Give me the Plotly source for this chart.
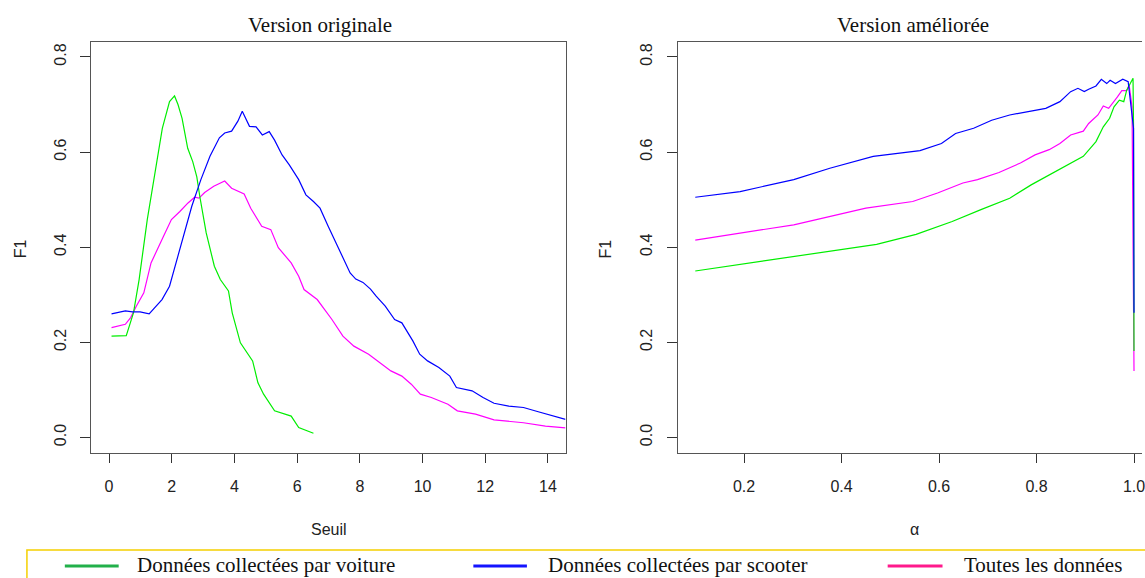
import plotly.graph_objects as go

# ---------------- data ----------------
# Left panel: "Version originale" (x = Seuil)
seuil_voiture = [0.08, 0.55, 0.78, 0.96, 1.22, 1.45, 1.70, 1.93, 2.09, 2.20, 2.33, 2.51, 2.67, 2.80,
                 2.90, 3.10, 3.36, 3.55, 3.81, 3.93, 4.19, 4.58, 4.75, 4.93, 5.28, 5.81, 6.05, 6.52]
f1_orig_voiture = [0.213, 0.214, 0.262, 0.332, 0.458, 0.548, 0.650, 0.706, 0.718, 0.700, 0.671, 0.608,
                   0.580, 0.548, 0.505, 0.430, 0.360, 0.332, 0.308, 0.262, 0.199, 0.161, 0.115, 0.091,
                   0.056, 0.045, 0.021, 0.009]

seuil_scooter = [0.08, 0.52, 0.75, 0.99, 1.28, 1.46, 1.69, 1.93, 2.28, 2.64, 2.93, 3.22, 3.52, 3.69,
                 3.91, 4.11, 4.25, 4.38, 4.48, 4.69, 4.89, 5.11, 5.28, 5.52, 5.75, 6.05, 6.28, 6.52,
                 6.73, 6.99, 7.34, 7.69, 7.87, 8.10, 8.34, 8.52, 8.81, 9.11, 9.34, 9.69, 9.91, 10.16,
                 10.52, 10.87, 11.08, 11.58, 11.93, 12.28, 12.75, 13.22, 13.69, 14.16, 14.56]
f1_orig_scooter = [0.260, 0.266, 0.264, 0.264, 0.260, 0.273, 0.290, 0.318, 0.402, 0.486, 0.542, 0.591,
                   0.630, 0.640, 0.644, 0.665, 0.686, 0.668, 0.654, 0.653, 0.636, 0.643, 0.625, 0.594,
                   0.573, 0.542, 0.510, 0.496, 0.482, 0.444, 0.395, 0.346, 0.333, 0.326, 0.312, 0.297,
                   0.276, 0.248, 0.241, 0.203, 0.175, 0.161, 0.147, 0.129, 0.105, 0.098, 0.084, 0.072,
                   0.066, 0.063, 0.054, 0.045, 0.038]

seuil_toutes = [0.08, 0.52, 0.69, 0.87, 1.11, 1.34, 1.69, 1.99, 2.26, 2.52, 2.73, 2.87, 3.05, 3.34,
                3.69, 3.91, 4.31, 4.52, 4.87, 5.16, 5.40, 5.81, 6.05, 6.22, 6.64, 7.11, 7.46, 7.81,
                8.28, 8.64, 8.99, 9.34, 9.64, 9.93, 10.28, 10.81, 11.11, 11.69, 12.28, 13.22, 13.92, 14.56]
f1_orig_toutes = [0.231, 0.238, 0.252, 0.276, 0.304, 0.367, 0.416, 0.458, 0.475, 0.493, 0.505, 0.503,
                  0.515, 0.528, 0.539, 0.524, 0.512, 0.482, 0.444, 0.437, 0.399, 0.367, 0.339, 0.311,
                  0.290, 0.248, 0.213, 0.192, 0.175, 0.157, 0.140, 0.129, 0.112, 0.091, 0.084, 0.070,
                  0.056, 0.049, 0.037, 0.031, 0.024, 0.020]

# Right panel: "Version améliorée" (x = alpha)
alpha_voiture = [0.10, 0.20, 0.302, 0.40, 0.472, 0.553, 0.627, 0.686, 0.745, 0.789, 0.833, 0.863, 0.896,
                 0.922, 0.937, 0.950, 0.959, 0.970, 0.979, 0.985, 0.992, 0.998, 0.999, 1.0]
f1_amel_voiture = [0.350, 0.365, 0.381, 0.395, 0.406, 0.427, 0.454, 0.479, 0.503, 0.531, 0.556, 0.573,
                   0.591, 0.622, 0.653, 0.671, 0.695, 0.709, 0.706, 0.730, 0.744, 0.755, 0.653, 0.182]

alpha_scooter = [0.10, 0.192, 0.302, 0.376, 0.465, 0.524, 0.561, 0.605, 0.634, 0.671, 0.708, 0.745,
                 0.789, 0.819, 0.848, 0.870, 0.885, 0.898, 0.907, 0.922, 0.933, 0.944, 0.951, 0.962,
                 0.977, 0.988, 0.994, 0.999, 1.0]
f1_amel_scooter = [0.505, 0.517, 0.542, 0.566, 0.591, 0.598, 0.603, 0.618, 0.639, 0.650, 0.667, 0.678,
                   0.687, 0.692, 0.706, 0.727, 0.734, 0.727, 0.732, 0.739, 0.753, 0.744, 0.751, 0.744,
                   0.753, 0.748, 0.695, 0.650, 0.262]

alpha_toutes = [0.10, 0.302, 0.45, 0.546, 0.597, 0.649, 0.679, 0.723, 0.767, 0.797, 0.826, 0.848,
                0.870, 0.896, 0.907, 0.926, 0.937, 0.948, 0.966, 0.975, 0.985, 0.990, 0.996, 1.0]
f1_amel_toutes = [0.415, 0.447, 0.482, 0.496, 0.514, 0.535, 0.542, 0.557, 0.577, 0.594, 0.605, 0.618,
                  0.636, 0.644, 0.660, 0.678, 0.697, 0.692, 0.716, 0.729, 0.729, 0.741, 0.695, 0.140]

y_ticks = [0.0, 0.2, 0.4, 0.6, 0.8]
x_ticks_left = [0, 2, 4, 6, 8, 10, 12, 14]
x_ticks_right = [0.2, 0.4, 0.6, 0.8, 1.0]

series_names = ["Données collectées par voiture", "Données collectées par scooter", "Toutes les données"]
titles = ["Version originale", "Version améliorée"]

# ---------------- styling ----------------
W, H = 1145, 578
def px(x):
    return x / W
def py(y):
    return 1 - y / H

GREEN, BLUE, MAGENTA = "#00ee00", "#0000ff", "#ff00ff"
LEG_COLORS = ["#22b04a", "#1414ff", "#ff1a8c"]
SANS = "Liberation Sans, Arial, sans-serif"
SERIF = "Liberation Serif, Times New Roman, serif"

fig = go.Figure()

# left panel (draw order: toutes, voiture, scooter)
fig.add_trace(go.Scatter(x=seuil_toutes, y=f1_orig_toutes, mode="lines",
                         line=dict(color=MAGENTA, width=1.2), xaxis="x", yaxis="y"))
fig.add_trace(go.Scatter(x=seuil_voiture, y=f1_orig_voiture, mode="lines",
                         line=dict(color=GREEN, width=1.2), xaxis="x", yaxis="y"))
fig.add_trace(go.Scatter(x=seuil_scooter, y=f1_orig_scooter, mode="lines",
                         line=dict(color=BLUE, width=1.2), xaxis="x", yaxis="y"))
# right panel
fig.add_trace(go.Scatter(x=alpha_toutes, y=f1_amel_toutes, mode="lines",
                         line=dict(color=MAGENTA, width=1.2), xaxis="x2", yaxis="y2"))
fig.add_trace(go.Scatter(x=alpha_voiture, y=f1_amel_voiture, mode="lines",
                         line=dict(color=GREEN, width=1.2), xaxis="x2", yaxis="y2"))
fig.add_trace(go.Scatter(x=alpha_scooter, y=f1_amel_scooter, mode="lines",
                         line=dict(color=BLUE, width=1.2), xaxis="x2", yaxis="y2"))

ydom = [py(452.7), py(41.7)]
axis_common = dict(showgrid=False, zeroline=False, showline=True, linecolor="#555555", linewidth=1,
                   ticks="outside", tickcolor="#333333", tickwidth=1, ticklabeloverflow="allow",
                   tickfont=dict(family=SANS, size=16, color="#222222"))

fig.update_layout(
    width=W, height=H, autosize=False,
    margin=dict(l=0, r=0, t=0, b=0),
    paper_bgcolor="white", plot_bgcolor="white",
    showlegend=False,
    xaxis=dict(domain=[px(91.7), px(567)], range=[-0.56, 14.56], tickvals=x_ticks_left,
               ticktext=[str(v) for v in x_ticks_left], ticklen=9, mirror=True,
               ticklabelstandoff=10, anchor="y", **axis_common),
    yaxis=dict(domain=ydom, range=[-0.032, 0.832], tickvals=y_ticks,
               ticktext=[f"{v:.1f}" for v in y_ticks], ticklen=10, tickangle=-90, mirror=True,
               ticklabelstandoff=8, anchor="x", **axis_common),
    xaxis2=dict(domain=[px(679.5), 1.0], range=[0.064, 1.0164], tickvals=x_ticks_right,
                ticktext=[f"{v:.1f}" for v in x_ticks_right], ticklen=9, mirror=True,
                ticklabelstandoff=10, anchor="y2", **axis_common),
    yaxis2=dict(domain=ydom, range=[-0.032, 0.832], tickvals=y_ticks,
                ticktext=[f"{v:.1f}" for v in y_ticks], ticklen=10, tickangle=-90, mirror=False,
                ticklabelstandoff=8, anchor="x2", **axis_common),
)

ann = []
# panel titles
ann.append(dict(text=titles[0], x=px(321), y=py(25), xref="paper", yref="paper", showarrow=False,
                xanchor="center", yanchor="middle", font=dict(family=SERIF, size=21, color="#111")))
ann.append(dict(text=titles[1], x=px(915), y=py(25), xref="paper", yref="paper", showarrow=False,
                xanchor="center", yanchor="middle", font=dict(family=SERIF, size=21, color="#111")))
# axis titles
ann.append(dict(text="Seuil", x=px(330), y=py(529), xref="paper", yref="paper", showarrow=False,
                xanchor="center", yanchor="middle", font=dict(family=SANS, size=16, color="#222")))
ann.append(dict(text="α", x=px(917), y=py(529), xref="paper", yref="paper", showarrow=False,
                xanchor="center", yanchor="middle", font=dict(family=SANS, size=16, color="#222")))
ann.append(dict(text="F1", x=px(20.3), y=py(249), xref="paper", yref="paper", showarrow=False,
                textangle=-90, xanchor="center", yanchor="middle",
                font=dict(family=SANS, size=16, color="#222")))
ann.append(dict(text="F1", x=px(607), y=py(249), xref="paper", yref="paper", showarrow=False,
                textangle=-90, xanchor="center", yanchor="middle",
                font=dict(family=SANS, size=16, color="#222")))

shapes = []
# legend box
shapes.append(dict(type="rect", xref="paper", yref="paper", x0=px(27), x1=px(1160), y0=py(600), y1=py(550),
                   line=dict(color="#f5d000", width=1.5), fillcolor="rgba(0,0,0,0)"))
leg_line_x = [(65, 119), (474.6, 528.3), (890, 945)]
leg_text_x = [135, 547.5, 965]
for (x0, x1), tx, name, col in zip(leg_line_x, leg_text_x, series_names, LEG_COLORS):
    shapes.append(dict(type="line", xref="paper", yref="paper", x0=px(x0), x1=px(x1), y0=py(566), y1=py(566),
                       line=dict(color=col, width=3)))
    ann.append(dict(text=name, x=px(tx), y=py(565), xref="paper", yref="paper", showarrow=False,
                    xanchor="left", yanchor="middle", font=dict(family=SERIF, size=21, color="#111")))

fig.update_layout(annotations=ann, shapes=shapes)
fig.write_html("out.html")
